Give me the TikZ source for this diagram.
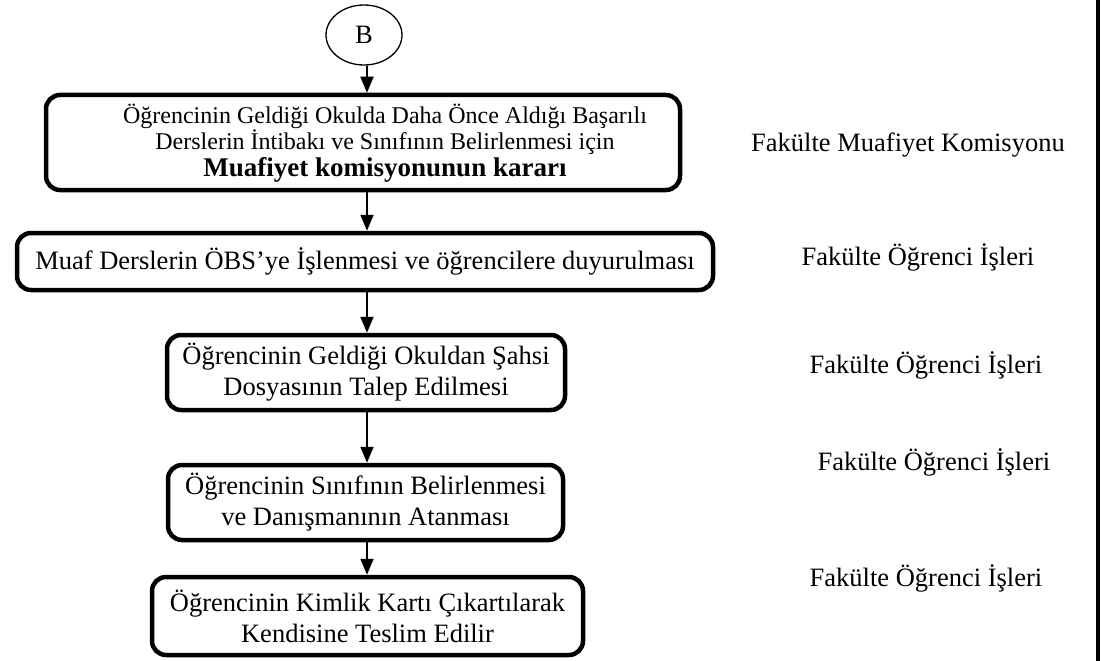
\documentclass[tikz,border=0pt]{standalone}
\usepackage{fontspec}
\setmainfont{Liberation Serif}
\usetikzlibrary{arrows.meta,shapes.geometric}
\begin{document}
\begin{tikzpicture}[x=1pt,y=-1pt,
  txt/.style={font=\fontsize{26.5}{31}\selectfont},
  small/.style={font=\fontsize{24}{26.5}\selectfont},
  box/.style={txt,draw,line width=4.5pt,rounded corners=14pt,align=center,inner sep=0pt},
  arr/.style={-{Triangle[length=16pt,width=13pt]},line width=1.8pt},
  lbl/.style={txt,anchor=center}]
\useasboundingbox (0,0) rectangle (1101,661);
\coordinate (ax) at (367,0);
\node[txt,ellipse,draw,line width=1.3pt,minimum width=76pt,minimum height=60pt,inner sep=0pt] (B) at (364,35) {B};
\node[box,minimum width=634pt,minimum height=95pt] (b1) at (363,142.5) {};
\node[small,align=center,inner sep=0pt] (t1) at (385,143)
  {Öğrencinin Geldiği Okulda Daha Önce Aldığı Başarılı\\Derslerin İntibakı ve Sınıfının Belirlenmesi için\\{\fontsize{27}{27}\selectfont\bfseries Muafiyet komisyonunun kararı}};
\node[box,minimum width=696pt,minimum height=57pt] (b2) at (365,261.5)
  {Muaf Derslerin ÖBS’ye İşlenmesi ve öğrencilere duyurulması};
\node[box,minimum width=398pt,minimum height=75pt] (b3) at (366,372.5)
  {Öğrencinin Geldiği Okuldan Şahsi\\Dosyasının Talep Edilmesi};
\node[box,minimum width=395pt,minimum height=75pt] (b4) at (365.5,502.5)
  {Öğrencinin Sınıfının Belirlenmesi\\ve Danışmanının Atanması};
\node[box,minimum width=431pt,minimum height=78pt] (b5) at (367.5,616)
  {Öğrencinin Kimlik Kartı Çıkartılarak\\Kendisine Teslim Edilir};
\draw[arr] (B.south -| ax) -- (b1.north -| ax);
\draw[arr] (b1.south -| ax) -- (b2.north -| ax);
\draw[arr] (b2.south -| ax) -- (b3.north -| ax);
\draw[arr] (b3.south -| ax) -- (b4.north -| ax);
\draw[arr] (b4.south -| ax) -- (b5.north -| ax);
\node[lbl] (l1) at (908,145) {Fakülte Muafiyet Komisyonu};
\node[lbl] (l2) at (918,257) {Fakülte Öğrenci İşleri};
\node[lbl] (l3) at (926,365) {Fakülte Öğrenci İşleri};
\node[lbl] (l4) at (934,462) {Fakülte Öğrenci İşleri};
\node[lbl] (l5) at (926,578) {Fakülte Öğrenci İşleri};
\coordinate (vt) at (1098,0);
\coordinate (vb) at (1098,661);
\draw[line width=4pt] (vt) -- (vb);
\end{tikzpicture}
\end{document}
